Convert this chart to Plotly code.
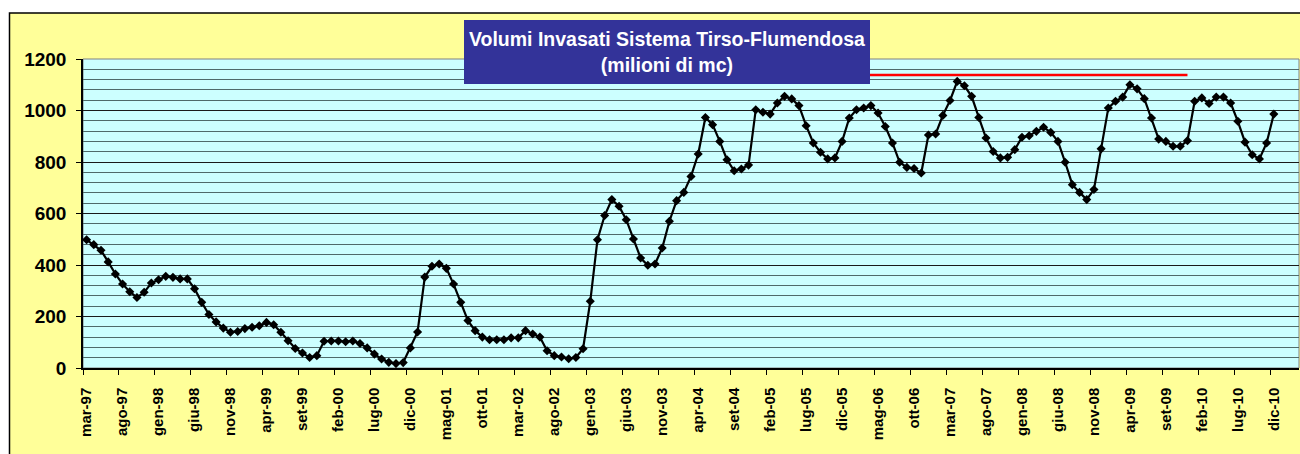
import plotly.graph_objects as go

# ---- data (milioni di mc), monthly from mar-97 to dic-10 ----
START_YEAR = 1997
START_MONTH = 3  # marzo
MONTH_ABBR = ["gen", "feb", "mar", "apr", "mag", "giu",
              "lug", "ago", "set", "ott", "nov", "dic"]

VOLUMES = [
    498, 479, 457, 412, 365, 326, 296, 274, 294, 330, 343, 356, 352, 346, 346, 308,
    255, 208, 179, 155, 139, 142, 153, 158, 164, 177, 168, 139, 106, 76, 58, 41,
    48, 104, 105, 105, 102, 105, 95, 78, 54, 35, 22, 17, 21, 78, 140, 353,
    395, 404, 387, 326, 255, 184, 145, 120, 110, 110, 110, 117, 117, 145, 132, 120,
    67, 48, 43, 36, 41, 75, 259, 498, 592, 654, 628, 576, 501, 427, 399, 404,
    466, 570, 650, 682, 744, 831, 973, 945, 880, 809, 766, 773, 788, 1003, 993, 986,
    1029, 1055, 1045, 1019, 941, 874, 838, 812, 816, 880, 971, 1003,
    1010, 1019, 990, 938, 874, 799, 779, 775, 757, 905, 909, 981, 1039, 1113, 1096, 1055,
    973, 893, 841, 816, 818, 848, 896, 902, 919, 935, 915, 880, 799, 712, 682, 654,
    693, 851, 1010, 1036, 1052, 1100, 1084, 1046, 971, 889, 880, 861, 861, 883, 1036, 1049,
    1027, 1052, 1052, 1029, 958, 877, 828, 812, 874, 986,
]

# reference level (red line)
RED_LEVEL = 1138
RED_FIRST_INDEX = 60
RED_LAST_INDEX = 153

EXTRA_EMPTY_CATEGORIES = 3
LABEL_STEP = 5

# ---- category labels ----
def month_label(k):
    m = (START_MONTH - 1 + k) % 12
    y = START_YEAR + (START_MONTH - 1 + k) // 12
    return f"{MONTH_ABBR[m]}-{y % 100:02d}"

n = len(VOLUMES)
categories = [month_label(k) for k in range(n)]
x_idx = list(range(n))
tick_idx = x_idx[::LABEL_STEP]
tick_text = [categories[i] for i in tick_idx]

red_x = list(range(RED_FIRST_INDEX, RED_LAST_INDEX + 1))
red_y = [RED_LEVEL] * len(red_x)

FONT = "Arial, Liberation Sans, sans-serif"

fig = go.Figure()
fig.add_trace(go.Scatter(
    x=red_x, y=red_y, mode="lines",
    line=dict(color="#FF0000", width=2.5),
    hoverinfo="skip", showlegend=False,
))
fig.add_trace(go.Scatter(
    x=x_idx, y=VOLUMES, mode="lines+markers",
    text=categories,
    line=dict(color="#000000", width=2.2),
    marker=dict(symbol="diamond", size=7, color="#000000"),
    showlegend=False,
))

W, H = 1300, 454
L, R, T, B = 83, 1, 59, 86
pw = W - L - R
ph = H - T - B

def px_x(px):
    return (px - L) / pw

def px_y(py):
    return (H - B - py) / ph

shapes = [
    # yellow chart-area frame
    dict(type="rect", xref="paper", yref="paper", layer="below",
         x0=px_x(9.5), x1=px_x(1320), y0=px_y(480), y1=px_y(13),
         fillcolor="#FFFF99", line=dict(color="#000000", width=1.5)),
    # cyan plot area
    dict(type="rect", xref="paper", yref="paper", layer="below",
         x0=0, x1=1, y0=0, y1=1,
         fillcolor="#CCFFFF", line=dict(color="#808080", width=1)),
]

fig.update_layout(
    width=W, height=H,
    margin=dict(l=L, r=R, t=T, b=B, pad=0, autoexpand=False),
    paper_bgcolor="#FFFFFF",
    plot_bgcolor="rgba(0,0,0,0)",
    shapes=shapes,
    font=dict(family=FONT, color="#000000"),
    annotations=[dict(
        xref="paper", yref="paper",
        x=px_x(667), y=px_y(51.5),
        xanchor="center", yanchor="middle",
        text="<b>Volumi Invasati Sistema Tirso-Flumendosa</b><br><b>(milioni di mc)</b>",
        showarrow=False,
        font=dict(family=FONT, size=19.5, color="#FFFFFF"),
        bgcolor="#333399",
        width=400, height=58, borderpad=3, borderwidth=0,
        align="center",
    )],
)

fig.update_xaxes(
    range=[-0.5, n - 1 + EXTRA_EMPTY_CATEGORIES + 0.5],
    tickmode="array", tickvals=tick_idx, ticktext=tick_text,
    tickangle=-90,
    tickfont=dict(family=FONT, size=15, color="#000000", weight="bold"),
    ticks="", ticklabelstandoff=12,
    showgrid=False, zeroline=False,
    showline=True, linecolor="#000000", linewidth=1.5,
    minor=dict(tickmode="array", tickvals=[i - 0.5 for i in tick_idx],
               ticks="outside", ticklen=5, tickwidth=1, tickcolor="#000000",
               showgrid=False),
)
fig.update_yaxes(
    range=[0, 1200], dtick=200, tick0=0,
    tickfont=dict(family=FONT, size=19, color="#000000", weight="bold"),
    ticks="outside", ticklen=5, tickwidth=1, tickcolor="#000000",
    ticklabelstandoff=6,
    showgrid=True, gridcolor="#1a1a1a", gridwidth=1,
    zeroline=False,
    showline=True, linecolor="#000000", linewidth=1.5,
    minor=dict(dtick=40, showgrid=True, gridcolor="#4f6a6a", gridwidth=1, ticks=""),
)

fig.write_html(
    "out.html",
    config={"displayModeBar": False},
    post_script="document.body.style.margin='0';document.body.style.padding='0';"
                "document.body.style.overflow='hidden';",
)
